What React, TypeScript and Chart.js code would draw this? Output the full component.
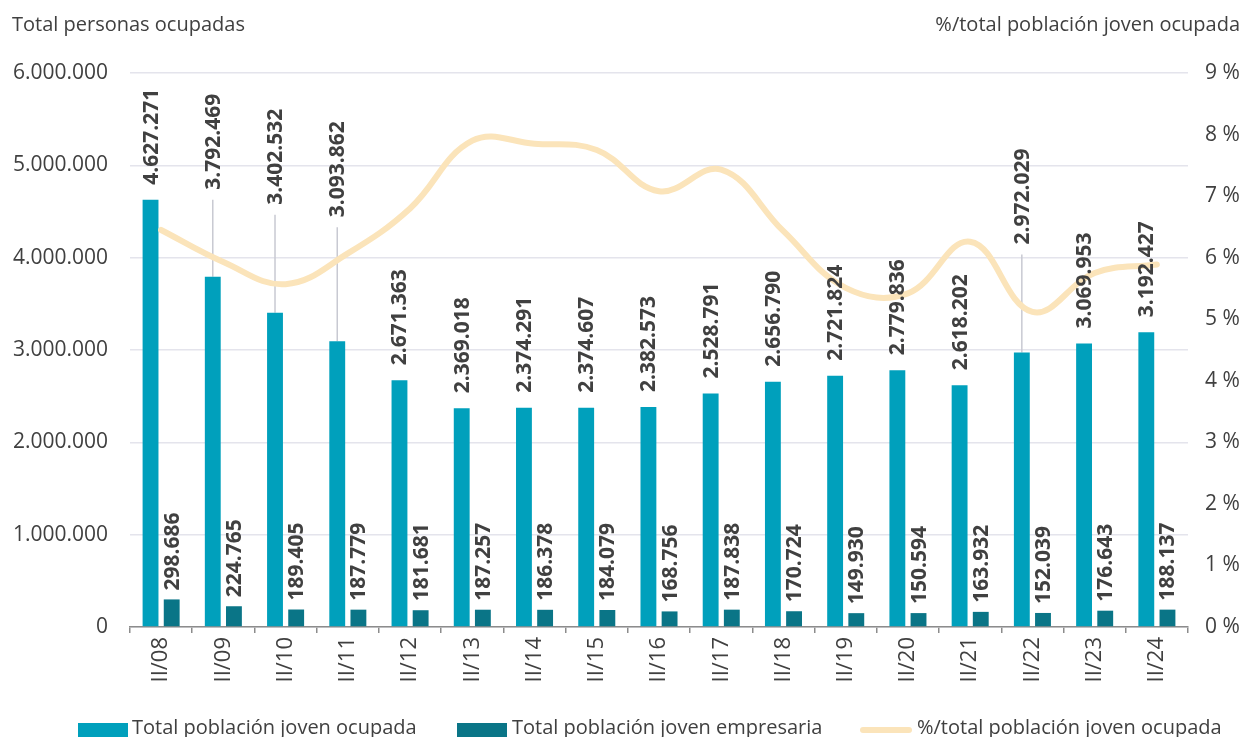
import React, { useEffect, useRef } from "react";
import { Chart, registerables } from "chart.js";

Chart.register(...registerables);

const categories = ["II/08", "II/09", "II/10", "II/11", "II/12", "II/13", "II/14", "II/15", "II/16", "II/17", "II/18", "II/19", "II/20", "II/21", "II/22", "II/23", "II/24"];
const ocupada = [4627271, 3792469, 3402532, 3093862, 2671363, 2369018, 2374291, 2374607, 2382573, 2528791, 2656790, 2721824, 2779836, 2618202, 2972029, 3069953, 3192427];
const empresaria = [298686, 224765, 189405, 187779, 181681, 187257, 186378, 184079, 168756, 187838, 170724, 149930, 150594, 163932, 152039, 176643, 188137];
const porcentaje = [6.45, 5.93, 5.57, 6.07, 6.8, 7.9, 7.85, 7.75, 7.08, 7.43, 6.43, 5.51, 5.42, 6.26, 5.12, 5.75, 5.89];
const seriesNames = ["Total población joven ocupada", "Total población joven empresaria", "%/total población joven ocupada"];
const leftTitle = "Total personas ocupadas";
const rightTitle = "%/total población joven ocupada";

// label lifts (px) for labels moved up with a leader line
const LIFT: Record<number, number> = { 1: 72, 2: 93, 3: 109, 14: 93 };

const FONT = "'Open Sans', 'DejaVu Sans', sans-serif";
const TEXT = "#404040";
const C_OCUP = "#00A0BC";
const C_EMP = "#0A7587";
const C_LINE = "#FBE4BA";

const fmt = (n: number) => String(n).replace(/\B(?=(\d{3})+(?!\d))/g, ".");

const labelPlugin = {
  id: "barLabels",
  beforeDatasetsDraw(chart: any) {
    const ctx = chart.ctx;
    const meta = chart.getDatasetMeta(0);
    ctx.save();
    ctx.strokeStyle = "#C8C9D2";
    ctx.lineWidth = 1.5;
    meta.data.forEach((bar: any, i: number) => {
      const lift = LIFT[i];
      if (!lift) return;
      ctx.beginPath();
      ctx.moveTo(bar.x, bar.y);
      ctx.lineTo(bar.x, bar.y - 15 - lift + 10);
      ctx.stroke();
    });
    ctx.restore();
  },
  afterDatasetsDraw(chart: any) {
    const ctx = chart.ctx;
    ctx.save();
    ctx.fillStyle = TEXT;
    ctx.font = `bold 21px ${FONT}`;
    ctx.textAlign = "left";
    ctx.textBaseline = "middle";
    [0, 1].forEach((di) => {
      const meta = chart.getDatasetMeta(di);
      const values = di === 0 ? ocupada : empresaria;
      meta.data.forEach((bar: any, i: number) => {
        const lift = di === 0 ? LIFT[i] || 0 : 0;
        const gap = di === 0 ? 15 : 9;
        ctx.save();
        ctx.translate(bar.x + 1, bar.y - gap - lift);
        ctx.rotate(-Math.PI / 2);
        ctx.fillText(fmt(values[i]), 0, 0);
        ctx.restore();
      });
    });
    ctx.restore();
  },
  afterDraw(chart: any) {
    const ctx = chart.ctx;
    ctx.save();
    ctx.fillStyle = TEXT;
    ctx.font = `20px ${FONT}`;
    ctx.textBaseline = "middle";
    ctx.textAlign = "left";
    ctx.fillText(leftTitle, 12, 25);
    ctx.textAlign = "right";
    ctx.fillText(rightTitle, 1240, 25);

    // legend
    const ly = 728;
    ctx.textAlign = "left";
    ctx.fillStyle = C_OCUP;
    ctx.fillRect(78, ly - 5, 50, 16);
    ctx.fillStyle = C_EMP;
    ctx.fillRect(457, ly - 5, 50, 16);
    ctx.strokeStyle = C_LINE;
    ctx.lineWidth = 6;
    ctx.lineCap = "round";
    ctx.beginPath();
    ctx.moveTo(863, ly + 2);
    ctx.lineTo(909, ly + 2);
    ctx.stroke();
    ctx.fillStyle = TEXT;
    ctx.fillText(seriesNames[0], 132, ly);
    ctx.fillText(seriesNames[1], 512, ly);
    ctx.fillText(seriesNames[2], 917, ly);
    ctx.restore();
  },
};

export default function App() {
  const ref = useRef<HTMLCanvasElement>(null);
  useEffect(() => {
    document.body.style.margin = "0";
    const chart = new Chart(ref.current!, {
      type: "bar",
      data: {
        labels: categories,
        datasets: [
          {
            type: "bar",
            label: seriesNames[0],
            data: ocupada,
            backgroundColor: C_OCUP,
            yAxisID: "y",
            order: 2,
            barPercentage: 0.75,
            categoryPercentage: 0.68,
          },
          {
            type: "bar",
            label: seriesNames[1],
            data: empresaria,
            backgroundColor: C_EMP,
            yAxisID: "y",
            order: 3,
            barPercentage: 0.75,
            categoryPercentage: 0.68,
          },
          {
            type: "line",
            label: seriesNames[2],
            data: porcentaje,
            borderColor: C_LINE,
            backgroundColor: C_LINE,
            borderWidth: 6,
            pointRadius: 0,
            tension: 0.4,
            borderCapStyle: "round",
            yAxisID: "y1",
            order: 1,
          } as any,
        ],
      },
      options: {
        animation: false,
        responsive: false,
        maintainAspectRatio: false,
        layout: { padding: { top: 73, left: 0, right: 0, bottom: 32 } },
        scales: {
          x: {
            offset: true,
            grid: { display: true, offset: true, drawOnChartArea: false, drawTicks: true, tickLength: 6, color: "#8C8C8C", lineWidth: 1.5 },
            border: { display: true, color: "#8C8C8C", width: 1.5 },
            ticks: { minRotation: 90, maxRotation: 90, color: TEXT, font: { family: FONT, size: 22 }, padding: 4 },
            afterFit: (s: any) => { s.height = 78; },
          },
          y: {
            position: "left",
            min: 0,
            max: 6000000,
            ticks: { stepSize: 1000000, color: TEXT, font: { family: FONT, size: 21 }, padding: 22, callback: (v: any) => fmt(Number(v)) },
            grid: { color: "#E4E4EC", lineWidth: 1.5, drawTicks: false },
            border: { display: false },
            afterFit: (s: any) => { s.width = 130; },
          },
          y1: {
            position: "right",
            min: 0,
            max: 9,
            ticks: { stepSize: 1, color: TEXT, font: { family: FONT, size: 21 }, padding: 17, callback: (v: any) => `${v} %` },
            grid: { display: false, drawTicks: false },
            border: { display: false },
            afterFit: (s: any) => { s.width = 59; },
          },
        },
        plugins: {
          title: { display: false },
          tooltip: { enabled: false },
          legend: { display: false },
        },
      },
      plugins: [labelPlugin],
    });
    return () => chart.destroy();
  }, []);
  return (
    <div style={{ width: 1247, height: 737 }}>
      <canvas ref={ref} width={1247} height={737} style={{ display: "block" }} />
    </div>
  );
}
